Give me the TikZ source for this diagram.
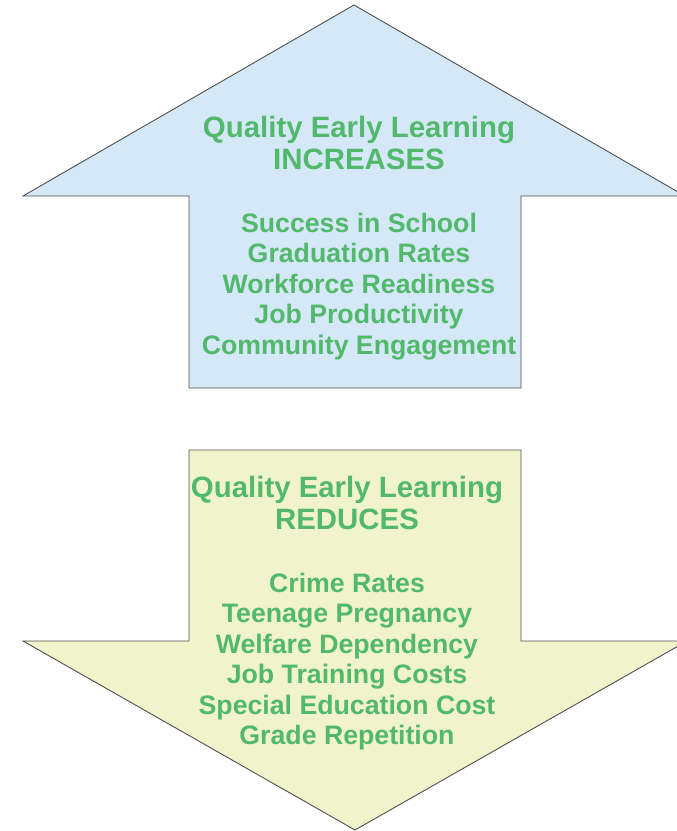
\documentclass[tikz,border=0pt]{standalone}
\usepackage{fontspec}
\setmainfont{Liberation Sans}
\definecolor{upfill}{HTML}{D4E8F7}
\definecolor{downfill}{HTML}{F1F4CA}
\definecolor{txtgreen}{HTML}{52B96C}
\definecolor{edge}{HTML}{505050}
\tikzset{
  arrowshape/.style={draw=edge, line width=0.9pt, line join=miter},
  titletext/.style={text=txtgreen, font=\fontsize{29.4}{30}\selectfont\bfseries, anchor=base, inner sep=0pt},
  listtext/.style={text=txtgreen, font=\fontsize{26.7}{30}\selectfont\bfseries, anchor=base, inner sep=0pt}
}
\begin{document}
\begin{tikzpicture}[x=1pt,y=-1pt]
\useasboundingbox (0,0) rectangle (677,831);
\clip (0,0) rectangle (677,831);
% up arrow
\path[arrowshape, fill=upfill] (354,5) -- (685,196) -- (521,196) -- (521,388) -- (189,388) -- (189,196) -- (23,196) -- cycle;
% down arrow
\path[arrowshape, fill=downfill] (189,450) -- (521,450) -- (521,641) -- (687,641) -- (355,830) -- (23,641) -- (189,641) -- cycle;
% up texts
\node[titletext] (ut1) at (359,137) {Quality Early Learning};
\node[titletext] (ut2) at (359,169) {INCREASES};
\node[listtext] (u1) at (359,232) {Success in School};
\node[listtext] (u2) at (359,262.5) {Graduation Rates};
\node[listtext] (u3) at (359,293) {Workforce Readiness};
\node[listtext] (u4) at (359,323.5) {Job Productivity};
\node[listtext] (u5) at (359,354) {Community Engagement};
% down texts
\node[titletext] (dt1) at (347,497) {Quality Early Learning};
\node[titletext] (dt2) at (347,529) {REDUCES};
\node[listtext] (d1) at (347,592) {Crime Rates};
\node[listtext] (d2) at (347,622.5) {Teenage Pregnancy};
\node[listtext] (d3) at (347,653) {Welfare Dependency};
\node[listtext] (d4) at (347,683.5) {Job Training Costs};
\node[listtext] (d5) at (347,714) {Special Education Cost};
\node[listtext] (d6) at (347,744.5) {Grade Repetition};
\end{tikzpicture}
\end{document}
